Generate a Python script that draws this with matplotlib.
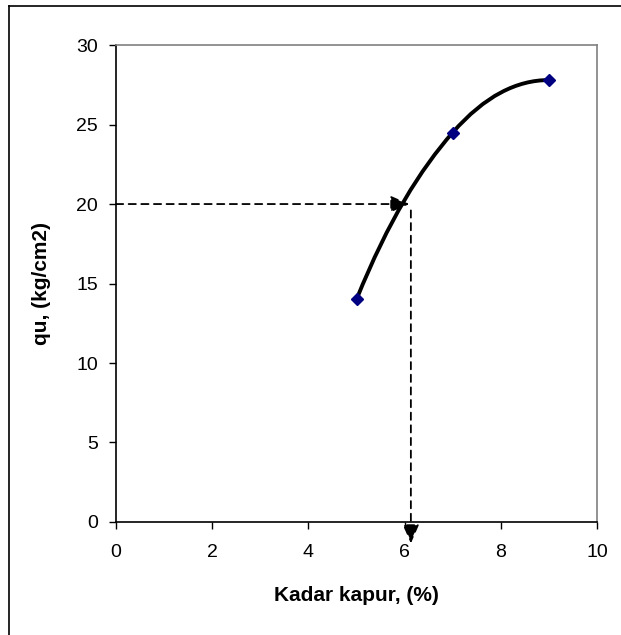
import matplotlib.pyplot as plt
from matplotlib.path import Path
from matplotlib.patches import PathPatch
from matplotlib.lines import Line2D

plt.rcParams['font.family'] = ['Liberation Sans', 'DejaVu Sans']

# data
kadar = [5, 7, 9]
qu = [14, 24.5, 27.8]
target_qu = 20
target_kadar = 6.1
read_kadar = 6.13

# end slopes for the smoothed curve (style)
end_slopes = (7.5, 0.0)


def smooth_path(xs, ys):
    n = len(xs)
    slopes = [end_slopes[0]]
    for i in range(1, n - 1):
        slopes.append((ys[i + 1] - ys[i - 1]) / (xs[i + 1] - xs[i - 1]))
    slopes.append(end_slopes[1])
    verts = [(xs[0], ys[0])]
    codes = [Path.MOVETO]
    for i in range(n - 1):
        d = (xs[i + 1] - xs[i]) / 3
        verts += [(xs[i] + d, ys[i] + slopes[i] * d),
                  (xs[i + 1] - d, ys[i + 1] - slopes[i + 1] * d),
                  (xs[i + 1], ys[i + 1])]
        codes += [Path.CURVE4] * 3
    return Path(verts, codes)


fig = plt.figure(figsize=(6.21, 6.35), dpi=100)
ax = fig.add_axes([0.1868, 0.178, 0.7746, 0.751])

ax.add_patch(PathPatch(smooth_path(kadar, qu), facecolor='none',
                       edgecolor='black', lw=2.8, zorder=3))
ax.plot(kadar, qu, linestyle='none', marker='D', markersize=6,
        color='#000080', zorder=4)

# dashed guide lines with arrows
arrow = dict(arrowstyle='-|>,head_length=1.15,head_width=0.5',
             color='black', lw=1.3, linestyle=(0, (4, 3)),
             shrinkA=0, shrinkB=0)
ax.annotate('', xy=(target_kadar, target_qu), xytext=(0, target_qu),
            arrowprops=arrow, zorder=5)
ax.annotate('', xy=(read_kadar, -1.35), xytext=(read_kadar, target_qu - 0.4),
            arrowprops=arrow, annotation_clip=False, zorder=5)

ax.set_xlim(0, 10)
ax.set_ylim(0, 30)
ax.set_xticks(range(0, 11, 2))
ax.set_yticks(range(0, 31, 5))
ax.tick_params(labelsize=14, length=5, width=1, direction='out')
ax.tick_params(axis='x', pad=11)
ax.tick_params(axis='y', pad=8)
ax.spines['top'].set_color('#808080')
ax.spines['right'].set_color('#808080')
for s in ax.spines.values():
    s.set_linewidth(1.2)

ax.set_xlabel('Kadar kapur, (%)', fontsize=15, fontweight='bold', labelpad=18)
ax.set_ylabel('qu, (kg/cm2)', fontsize=15, fontweight='bold', labelpad=18)

# outer frame (left and top)
fig.add_artist(Line2D([9 / 621, 9 / 621], [0, 1 - 6 / 635], color='black', lw=1.2))
fig.add_artist(Line2D([9 / 621, 1], [1 - 6 / 635, 1 - 6 / 635], color='black', lw=1.2))

plt.savefig('out.png')
plt.close()
